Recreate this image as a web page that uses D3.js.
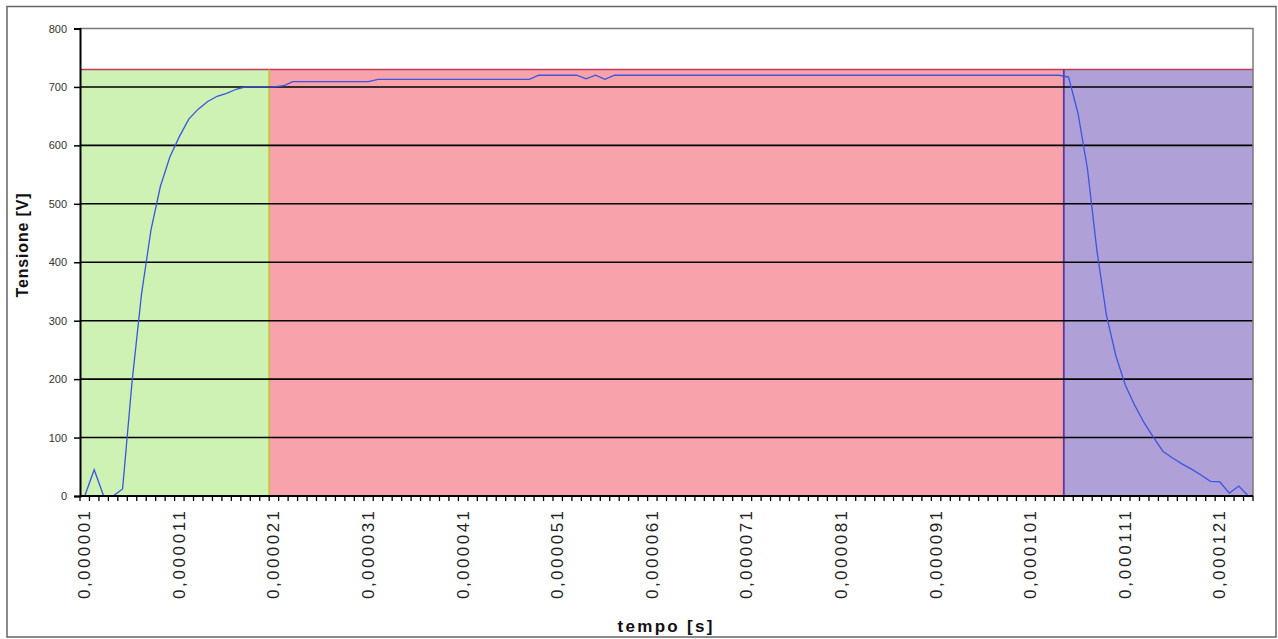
<!DOCTYPE html>
<html>
<head>
<meta charset="utf-8">
<script src="https://cdn.jsdelivr.net/npm/d3@7"></script>
<style>
  body { margin: 0; background: #fff; }
  svg { display: block; font-family: "Liberation Sans", Arial, sans-serif; }
</style>
</head>
<body>
<div id="chart"></div>
<script>
// time samples in microseconds (one category per sample)
const timeUs = [
  1, 2, 3, 4, 5, 6, 7, 8, 9, 10, 11, 12, 13, 14, 15, 16, 17, 18, 19, 20,
  21, 22, 23, 24, 25, 26, 27, 28, 29, 30, 31, 32, 33, 34, 35, 36, 37, 38, 39, 40,
  41, 42, 43, 44, 45, 46, 47, 48, 49, 50, 51, 52, 53, 54, 55, 56, 57, 58, 59, 60,
  61, 62, 63, 64, 65, 66, 67, 68, 69, 70, 71, 72, 73, 74, 75, 76, 77, 78, 79, 80,
  81, 82, 83, 84, 85, 86, 87, 88, 89, 90, 91, 92, 93, 94, 95, 96, 97, 98, 99, 100,
  101, 102, 103, 104, 105, 106, 107, 108, 109, 110, 111, 112, 113, 114, 115, 116, 117, 118, 119, 120,
  121, 122, 123, 124
];

// measured voltage [V]
const tensione = [
  0, 45, 0, 0, 12, 195, 345, 455, 530, 580, 615, 645, 662, 675, 684, 689, 696, 700, 700, 700,
  700, 702, 709, 709, 709, 709, 709, 709, 709, 709, 709, 713, 713, 713, 713, 713, 713, 713, 713, 713,
  713, 713, 713, 713, 713, 713, 713, 713, 720, 720, 720, 720, 720, 714, 720, 713, 720, 720, 720, 720,
  720, 720, 720, 720, 720, 720, 720, 720, 720, 720, 720, 720, 720, 720, 720, 720, 720, 720, 720, 720,
  720, 720, 720, 720, 720, 720, 720, 720, 720, 720, 720, 720, 720, 720, 720, 720, 720, 720, 720, 720,
  720, 720, 720, 720, 717, 655, 560, 420, 310, 240, 190, 155, 125, 100, 76, 65, 55, 46, 36, 25,
  24, 5, 17, 0
];

// background phases: first sample of each phase and its height
const phaseStartUs = [1, 21, 105];
const phaseLevel = 730;

const xTickLabels = [
  "0,000001", "0,000011", "0,000021", "0,000031", "0,000041", "0,000051", "0,000061",
  "0,000071", "0,000081", "0,000091", "0,000101", "0,000111", "0,000121"
];
const yTicks = [0, 100, 200, 300, 400, 500, 600, 700, 800];

const phaseColors = ["#cdf2b4", "#f8a2ac", "#b0a0d8"];
const phaseEdgeColors = [null, "#c9c23e", "#5a3aa0"];

const fmt = t => "0," + String(t).padStart(6, "0");
const categories = timeUs.map(fmt);

const width = 1278;
const height = 639;
const margin = { top: 28.5, right: 25, bottom: 143, left: 80 };

const svg = d3.select("#chart")
  .append("svg")
  .attr("width", width)
  .attr("height", height);

// outer chart frame
svg.append("rect")
  .attr("x", 7).attr("y", 6.5)
  .attr("width", 1269).attr("height", 630.5)
  .attr("fill", "none")
  .attr("stroke", "#666")
  .attr("stroke-width", 1.5);

const x = d3.scaleBand()
  .domain(categories)
  .range([margin.left, width - margin.right])
  .padding(0);

const y = d3.scaleLinear()
  .domain([0, 800])
  .range([height - margin.bottom, margin.top]);

const x0 = margin.left, x1 = width - margin.right;
const yBottom = y(0);

// phases
const phaseBounds = phaseStartUs.map((s, i) => {
  const start = x(fmt(s));
  const end = i < phaseStartUs.length - 1 ? x(fmt(phaseStartUs[i + 1])) : x1;
  return { start, end, i };
});

svg.append("g")
  .selectAll("rect")
  .data(phaseBounds)
  .join("rect")
  .attr("x", d => d.start)
  .attr("y", y(phaseLevel))
  .attr("width", d => d.end - d.start)
  .attr("height", d => yBottom - y(phaseLevel))
  .attr("fill", d => phaseColors[d.i]);

// top edge of the phases
svg.append("line")
  .attr("x1", x0).attr("x2", x1)
  .attr("y1", y(phaseLevel)).attr("y2", y(phaseLevel))
  .attr("stroke", "#c23a55")
  .attr("stroke-width", 1.5);

// separators between phases
svg.append("g")
  .selectAll("line")
  .data(phaseBounds.filter(d => d.i > 0))
  .join("line")
  .attr("x1", d => d.start).attr("x2", d => d.start)
  .attr("y1", y(phaseLevel)).attr("y2", yBottom)
  .attr("stroke", d => phaseEdgeColors[d.i])
  .attr("stroke-width", 1.8);

// gridlines
svg.append("g")
  .selectAll("line")
  .data(yTicks.filter(v => v > 0 && v < 800))
  .join("line")
  .attr("x1", x0).attr("x2", x1)
  .attr("y1", d => y(d)).attr("y2", d => y(d))
  .attr("stroke", "#000")
  .attr("stroke-width", 1.6);

// plot area border (top and right)
svg.append("path")
  .attr("d", `M${x0},${y(800)}H${x1}V${yBottom}`)
  .attr("fill", "none")
  .attr("stroke", "#7a7a7a")
  .attr("stroke-width", 1.5);

// data line
const line = d3.line()
  .x((d, i) => x(categories[i]) + x.bandwidth() / 2)
  .y(d => y(d));

svg.append("path")
  .datum(tensione)
  .attr("d", line)
  .attr("fill", "none")
  .attr("stroke", "#3a55e0")
  .attr("stroke-width", 1.3);

// y axis
const yAxis = svg.append("g")
  .attr("transform", `translate(${x0},0)`)
  .call(d3.axisLeft(y).tickValues(yTicks).tickSize(6).tickPadding(7));
yAxis.select(".domain").attr("stroke", "#000").attr("stroke-width", 2);
yAxis.selectAll(".tick line").attr("stroke", "#000").attr("stroke-width", 1.5);
yAxis.selectAll(".tick text")
  .attr("font-size", 11)
  .attr("fill", "#333")
  .attr("font-family", "'Liberation Sans', Arial, sans-serif");

// x axis: line, tick marks at category boundaries, labels every 10 samples
svg.append("line")
  .attr("x1", x0).attr("x2", x1)
  .attr("y1", yBottom).attr("y2", yBottom)
  .attr("stroke", "#000")
  .attr("stroke-width", 2);

svg.append("g")
  .selectAll("line")
  .data(categories.map(c => x(c)).concat([x1]))
  .join("line")
  .attr("x1", d => d).attr("x2", d => d)
  .attr("y1", yBottom).attr("y2", yBottom + 5)
  .attr("stroke", "#000")
  .attr("stroke-width", 1.3);

svg.append("g")
  .selectAll("text")
  .data(xTickLabels)
  .join("text")
  .attr("transform", d => `translate(${x(d) + x.bandwidth() / 2},${yBottom + 15}) rotate(-90)`)
  .attr("text-anchor", "end")
  .attr("dominant-baseline", "central")
  .attr("font-size", 17)
  .attr("textLength", 88)
  .attr("fill", "#222")
  .text(d => d);

// axis titles
svg.append("text")
  .attr("transform", `translate(22,245.5) rotate(-90)`)
  .attr("text-anchor", "middle")
  .attr("dominant-baseline", "central")
  .attr("font-size", 16)
  .attr("font-weight", "bold")
  .attr("textLength", 104)
  .attr("fill", "#111")
  .text("Tensione [V]");

svg.append("text")
  .attr("x", 665)
  .attr("y", 632)
  .attr("text-anchor", "middle")
  .attr("font-size", 17)
  .attr("font-weight", "bold")
  .attr("textLength", 95)
  .attr("fill", "#111")
  .text("tempo [s]");
</script>
</body>
</html>
